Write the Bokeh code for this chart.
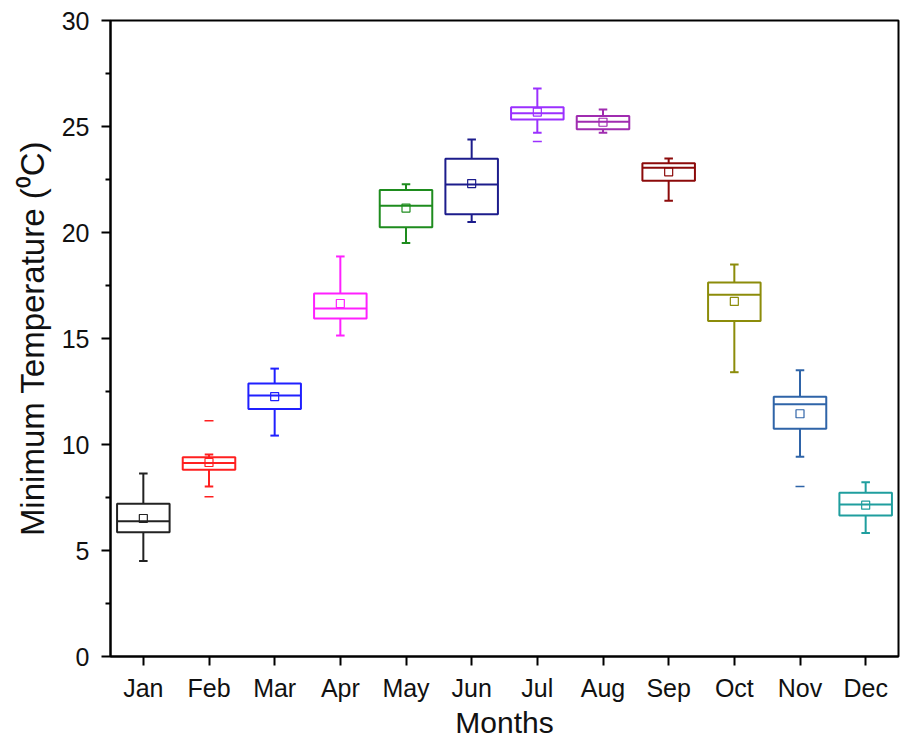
from bokeh.plotting import figure
from bokeh.models import ColumnDataSource, FixedTicker, CustomJSTickFormatter
from bokeh.embed import file_html
from bokeh.resources import INLINE

months = ["Jan", "Feb", "Mar", "Apr", "May", "Jun", "Jul", "Aug", "Sep", "Oct", "Nov", "Dec"]
colors = ["#222222", "#FF2020", "#2020FF", "#FF20FF", "#1E8C1E", "#1C1C8C",
          "#9B30FF", "#A02CB0", "#8C0A0A", "#8C8C0A", "#2F64A8", "#1F9E9E"]
whisker_low = [4.51, 8.02, 10.42, 15.14, 19.50, 20.49, 24.70, 24.70, 21.50, 13.41, 9.42, 5.82]
q1 = [5.86, 8.81, 11.67, 15.94, 20.25, 20.86, 25.33, 24.87, 22.44, 15.82, 10.74, 6.65]
median = [6.38, 9.13, 12.31, 16.42, 21.26, 22.26, 25.63, 25.22, 23.05, 17.06, 11.90, 7.17]
q3 = [7.20, 9.40, 12.88, 17.12, 22.00, 23.48, 25.91, 25.49, 23.27, 17.64, 12.25, 7.72]
whisker_high = [8.63, 9.53, 13.58, 18.87, 22.28, 24.39, 26.79, 25.80, 23.49, 18.49, 13.50, 8.22]
mean = [6.51, 9.15, 12.26, 16.65, 21.15, 22.31, 25.68, 25.20, 22.86, 16.75, 11.45, 7.14]
outlier_month = ["Feb", "Feb", "Jul", "Nov"]
outlier_value = [11.12, 7.53, 24.29, 8.02]
y_ticks = [0, 5, 10, 15, 20, 25, 30]

xs = list(range(1, 13))
bw = 0.4
cw = 0.065
src = ColumnDataSource(dict(
    x=xs, left=[x - bw for x in xs], right=[x + bw for x in xs],
    cl=[x - cw for x in xs], cr=[x + cw for x in xs],
    wl=whisker_low, q1=q1, med=median, q3=q3, wh=whisker_high, mean=mean, color=colors))

ocol = [colors[months.index(m)] for m in outlier_month]
osrc = ColumnDataSource(dict(x=[months.index(m) + 1 for m in outlier_month], y=outlier_value, color=ocol))

FONT = "Liberation Sans"

p = figure(width=903, height=742, output_backend="svg", toolbar_location=None,
           x_range=(0.5, 12.5), y_range=(0, 30),
           min_border_left=110, min_border_right=5, min_border_top=20, min_border_bottom=86)
p.background_fill_color = "white"
p.border_fill_color = "white"
p.grid.visible = False
p.outline_line_color = "black"
p.outline_line_width = 2

lw = 2
# whiskers
p.segment(x0="x", y0="q3", x1="x", y1="wh", source=src, line_color="color", line_width=lw)
p.segment(x0="x", y0="wl", x1="x", y1="q1", source=src, line_color="color", line_width=lw)
p.segment(x0="cl", y0="wh", x1="cr", y1="wh", source=src, line_color="color", line_width=lw)
p.segment(x0="cl", y0="wl", x1="cr", y1="wl", source=src, line_color="color", line_width=lw)
# boxes
p.quad(left="left", right="right", bottom="q1", top="q3", source=src,
       fill_color=None, line_color="color", line_width=lw)
p.segment(x0="left", y0="med", x1="right", y1="med", source=src, line_color="color", line_width=lw)
# mean
p.scatter(x="x", y="mean", source=src, marker="square", size=8,
          fill_color=None, line_color="color", line_width=1.2)
# outliers
p.scatter(x="x", y="y", source=osrc, marker="dash", size=9,
          line_color="color", line_width=1.5)

# axes
xa = p.xaxis[0]
xa.ticker = FixedTicker(ticks=xs)
xa.formatter = CustomJSTickFormatter(args=dict(labels=months), code="return labels[Math.round(tick) - 1];")
xa.axis_label = "Months"
ya = p.yaxis[0]
ya.ticker = FixedTicker(ticks=y_ticks, minor_ticks=[2.5, 7.5, 12.5, 17.5, 22.5, 27.5])
ya.axis_label = "Minimum Temperature (\u2070C)"

for ax in (xa, ya):
    ax.axis_line_color = "black"
    ax.axis_line_width = 2
    ax.major_tick_line_color = "black"
    ax.major_tick_line_width = 2
    ax.minor_tick_line_color = "black"
    ax.minor_tick_line_width = 2
    ax.major_tick_out = 9
    ax.major_tick_in = 0
    ax.minor_tick_out = 5
    ax.minor_tick_in = 0
    ax.major_label_text_font = FONT
    ax.major_label_text_font_size = "25px"
    ax.major_label_text_color = "#111111"
    ax.axis_label_text_font = FONT
    ax.axis_label_text_font_style = "normal"
    ax.axis_label_text_color = "#111111"
xa.minor_tick_line_color = None
xa.major_label_standoff = 8
xa.axis_label_text_font_size = "30px"
xa.axis_label_standoff = 1
ya.major_label_standoff = 12
ya.axis_label_text_font_size = "33px"
ya.axis_label_standoff = 8

open("out.html", "w").write(file_html(p, INLINE))
